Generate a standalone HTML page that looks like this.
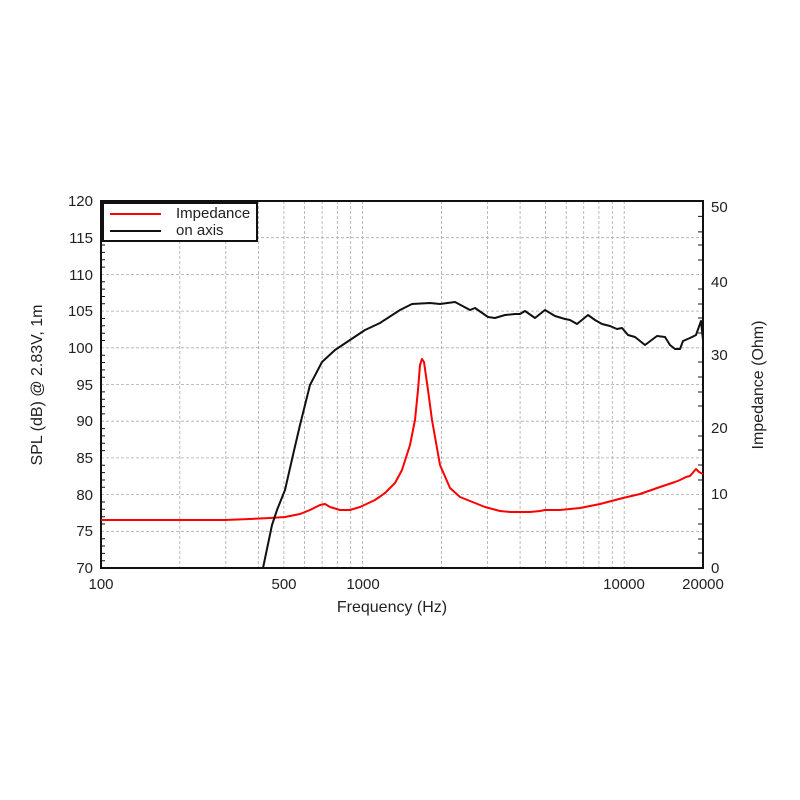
<!DOCTYPE html>
<html><head><meta charset="utf-8"><style>body{margin:0;background:#fff}svg{display:block}text{font-family:"Liberation Sans",sans-serif;fill:#222}</style></head><body>
<svg width="800" height="800" viewBox="0 0 800 800" xmlns="http://www.w3.org/2000/svg">
<g stroke="#aaa" stroke-width="0.8" stroke-dasharray="3,2" fill="none">
<line x1="101" y1="237.7" x2="703" y2="237.7"/><line x1="101" y1="274.4" x2="703" y2="274.4"/><line x1="101" y1="311.1" x2="703" y2="311.1"/><line x1="101" y1="347.8" x2="703" y2="347.8"/><line x1="101" y1="384.5" x2="703" y2="384.5"/><line x1="101" y1="421.2" x2="703" y2="421.2"/><line x1="101" y1="457.9" x2="703" y2="457.9"/><line x1="101" y1="494.6" x2="703" y2="494.6"/><line x1="101" y1="531.3" x2="703" y2="531.3"/>
<line x1="179.8" y1="201" x2="179.8" y2="568"/><line x1="225.8" y1="201" x2="225.8" y2="568"/><line x1="258.5" y1="201" x2="258.5" y2="568"/><line x1="283.9" y1="201" x2="283.9" y2="568"/><line x1="304.6" y1="201" x2="304.6" y2="568"/><line x1="322.1" y1="201" x2="322.1" y2="568"/><line x1="337.3" y1="201" x2="337.3" y2="568"/><line x1="350.7" y1="201" x2="350.7" y2="568"/><line x1="362.6" y1="201" x2="362.6" y2="568"/>
<line x1="441.4" y1="201" x2="441.4" y2="568"/><line x1="487.4" y1="201" x2="487.4" y2="568"/><line x1="520.1" y1="201" x2="520.1" y2="568"/><line x1="545.5" y1="201" x2="545.5" y2="568"/><line x1="566.2" y1="201" x2="566.2" y2="568"/><line x1="583.7" y1="201" x2="583.7" y2="568"/><line x1="598.9" y1="201" x2="598.9" y2="568"/><line x1="612.3" y1="201" x2="612.3" y2="568"/><line x1="624.2" y1="201" x2="624.2" y2="568"/>
</g>
<rect x="101" y="201" width="602" height="367" fill="none" stroke="#111" stroke-width="2"/>
<g stroke="#111" stroke-width="1">
<path d="M101 208.3h4M101 215.7h4M101 223h4M101 230.4h4M101 245h4M101 252.4h4M101 259.7h4M101 267.1h4M101 281.8h4M101 289.1h4M101 296.5h4M101 303.8h4M101 318.5h4M101 325.8h4M101 333.2h4M101 340.5h4M101 355.2h4M101 362.5h4M101 369.9h4M101 377.2h4M101 391.9h4M101 399.2h4M101 406.6h4M101 413.9h4M101 428.6h4M101 435.9h4M101 443.3h4M101 450.6h4M101 465.3h4M101 472.6h4M101 480h4M101 487.3h4M101 502h4M101 509.3h4M101 516.7h4M101 524h4M101 538.7h4M101 546h4M101 553.4h4M101 560.7h4"/>
<path d="M703 216.4h-5M703 231.9h-5M703 245h-5M703 260h-5M703 289h-5M703 304h-5M703 318h-5M703 333h-5M703 362h-5M703 377h-5M703 392h-5M703 406h-5M703 436h-5M703 450h-5M703 465h-5M703 480h-5M703 509h-5M703 524h-5M703 539h-5M703 553h-5"/>
</g>
<g font-size="15" text-anchor="end">
<text x="93" y="206">120</text><text x="93" y="243">115</text><text x="93" y="280">110</text><text x="93" y="316">105</text><text x="93" y="353">100</text><text x="93" y="390">95</text><text x="93" y="426">90</text><text x="93" y="463">85</text><text x="93" y="500">80</text><text x="93" y="536">75</text><text x="93" y="573">70</text>
</g>
<g font-size="15">
<text x="711" y="212">50</text><text x="711" y="287">40</text><text x="711" y="360">30</text><text x="711" y="433">20</text><text x="711" y="499">10</text><text x="711" y="573">0</text>
</g>
<g font-size="15" text-anchor="middle">
<text x="101" y="589">100</text><text x="284" y="589">500</text><text x="363" y="589">1000</text><text x="624" y="589">10000</text><text x="703" y="589">20000</text>
</g>
<text x="392" y="612" font-size="16" text-anchor="middle">Frequency (Hz)</text>
<text transform="translate(42,385) rotate(-90)" font-size="16" text-anchor="middle">SPL (dB) @ 2.83V, 1m</text>
<text transform="translate(763,385) rotate(-90)" font-size="16" text-anchor="middle">Impedance (Ohm)</text>
<polyline fill="none" stroke="#f00" stroke-width="2" stroke-linejoin="round" points="101,520 225,520 250,519 270,518 285,517 300,514 310,510 320,505 325,504 330,507 340,510 350,510 360,507 375,500 385,493 395,483 402,470 410,445 415,420 418,390 420,365 422,359 424,362 428,390 432,420 440,465 450,488 460,497 475,503 485,507 500,511 510,512 530,512 540,511 545,510 560,510 580,508 600,504 623,498 640,494 660,487 675,482 680,480 686,477 690,476 696,469 699,472 703,474"/>
<polyline fill="none" stroke="#111" stroke-width="2" stroke-linejoin="round" points="263,568 272,525 277,510 285,490 293,455 300,425 310,385 322,362 335,350 350,340 365,330 380,323 400,310 412,304 430,303 440,304 455,302 470,310 475,308 488,317 495,318 505,315 515,314 520,314 525,311 535,318 545,310 555,316 565,319 570,320 577,324 588,315 595,320 602,324 610,326 617,329 622,328 628,335 635,337 645,345 657,336 665,337 670,345 675,349 680,349 683,341 690,338 696,335 701,321 703,340 703,350"/>
<rect x="103" y="203" width="154" height="38" fill="#fff" stroke="#111" stroke-width="2"/>
<line x1="110" y1="214" x2="161" y2="214" stroke="#f00" stroke-width="2"/>
<line x1="110" y1="231" x2="161" y2="231" stroke="#111" stroke-width="2"/>
<text x="176" y="218" font-size="15">Impedance</text>
<text x="176" y="235" font-size="15">on axis</text>
</svg>
</body></html>
